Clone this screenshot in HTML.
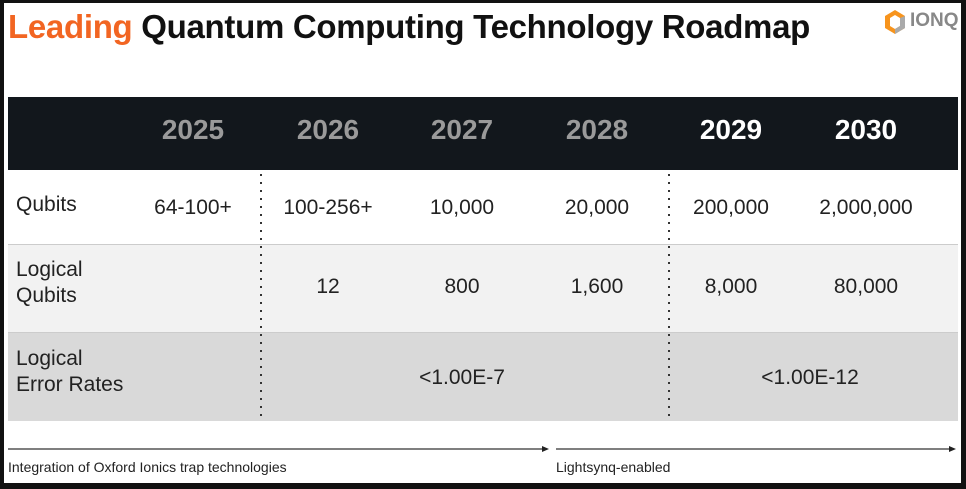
<!DOCTYPE html>
<html><head><style>
body{margin:0;width:966px;height:489px;background:#111;position:relative;overflow:hidden;font-family:"Liberation Sans",sans-serif}
.pg{position:absolute;left:4px;top:3px;width:957px;height:480px;background:#fff}
.a{position:absolute}
.t{position:absolute;font-size:21px;color:#222;text-align:center;width:140px;margin-left:-70px}
.y{position:absolute;font-size:28px;font-weight:bold;text-align:center;width:130px;margin-left:-65px;top:114px}
.l{position:absolute;left:16px;font-size:21px;color:#222;line-height:26px}
</style></head><body>
<div class="pg"></div>
<div class="a" style="left:8px;top:8px;font-size:33px;font-weight:bold;color:#111;letter-spacing:-0.3px">
<span style="color:#f26522">Leading</span> Quantum Computing Technology Roadmap</div>
<svg class="a" style="left:883px;top:9px" width="24" height="26" viewBox="0 0 24 26">
<polygon points="12,1 22,7 22,19 12,25 2,19 2,7" fill="#f7941d"/>
<polygon points="12,6 17,9 17,17 12,20 7,17 7,9" fill="#fff"/>
<polygon points="12,25 22,19 22,7 17,9 17,17 12,20" fill="#aaa"/></svg>
<div class="a" style="left:910px;top:10px;font-size:19px;font-weight:bold;color:#888">IONQ</div>
<div class="a" style="left:8px;top:97px;width:950px;height:73px;background:#12171c"></div>
<div class="a" style="left:8px;top:170px;width:950px;height:74px;background:#fff;border-bottom:1px solid #ccc"></div>
<div class="a" style="left:8px;top:245px;width:950px;height:87px;background:#f2f2f2;border-bottom:1px solid #ccc"></div>
<div class="a" style="left:8px;top:333px;width:950px;height:88px;background:#d9d9d9"></div>
<svg class="a" style="left:0;top:170px" width="966" height="250">
<line x1="261" y1="4" x2="261" y2="246" stroke="#333" stroke-width="2" stroke-dasharray="2 6"/>
<line x1="669" y1="4" x2="669" y2="246" stroke="#333" stroke-width="2" stroke-dasharray="2 6"/>
</svg>
<div class="y" style="left:193px;color:#9a9a9a">2025</div>
<div class="y" style="left:328px;color:#9a9a9a">2026</div>
<div class="y" style="left:462px;color:#9a9a9a">2027</div>
<div class="y" style="left:597px;color:#9a9a9a">2028</div>
<div class="y" style="left:731px;color:#fff">2029</div>
<div class="y" style="left:866px;color:#fff">2030</div>
<div class="l" style="top:192px">Qubits</div>
<div class="l" style="top:257px">Logical<br>Qubits</div>
<div class="l" style="top:346px">Logical<br>Error Rates</div>
<div class="t" style="left:193px;top:196px">64-100+</div>
<div class="t" style="left:328px;top:196px">100-256+</div>
<div class="t" style="left:462px;top:196px">10,000</div>
<div class="t" style="left:597px;top:196px">20,000</div>
<div class="t" style="left:731px;top:196px">200,000</div>
<div class="t" style="left:866px;top:196px">2,000,000</div>
<div class="t" style="left:328px;top:275px">12</div>
<div class="t" style="left:462px;top:275px">800</div>
<div class="t" style="left:597px;top:275px">1,600</div>
<div class="t" style="left:731px;top:275px">8,000</div>
<div class="t" style="left:866px;top:275px">80,000</div>
<div class="t" style="left:462px;top:366px">&lt;1.00E-7</div>
<div class="t" style="left:810px;top:366px">&lt;1.00E-12</div>
<svg class="a" style="left:0;top:440px" width="966" height="20">
<line x1="8" y1="9" x2="544" y2="9" stroke="#333" stroke-width="1.3"/>
<polygon points="542,6 549,9 542,12" fill="#222"/>
<line x1="556" y1="9" x2="951" y2="9" stroke="#333" stroke-width="1.3"/>
<polygon points="949,6 956,9 949,12" fill="#222"/></svg>
<div class="a" style="left:8px;top:459px;font-size:14px;color:#222">Integration of Oxford Ionics trap technologies</div>
<div class="a" style="left:556px;top:459px;font-size:14px;color:#222">Lightsynq-enabled</div>
</body></html>
